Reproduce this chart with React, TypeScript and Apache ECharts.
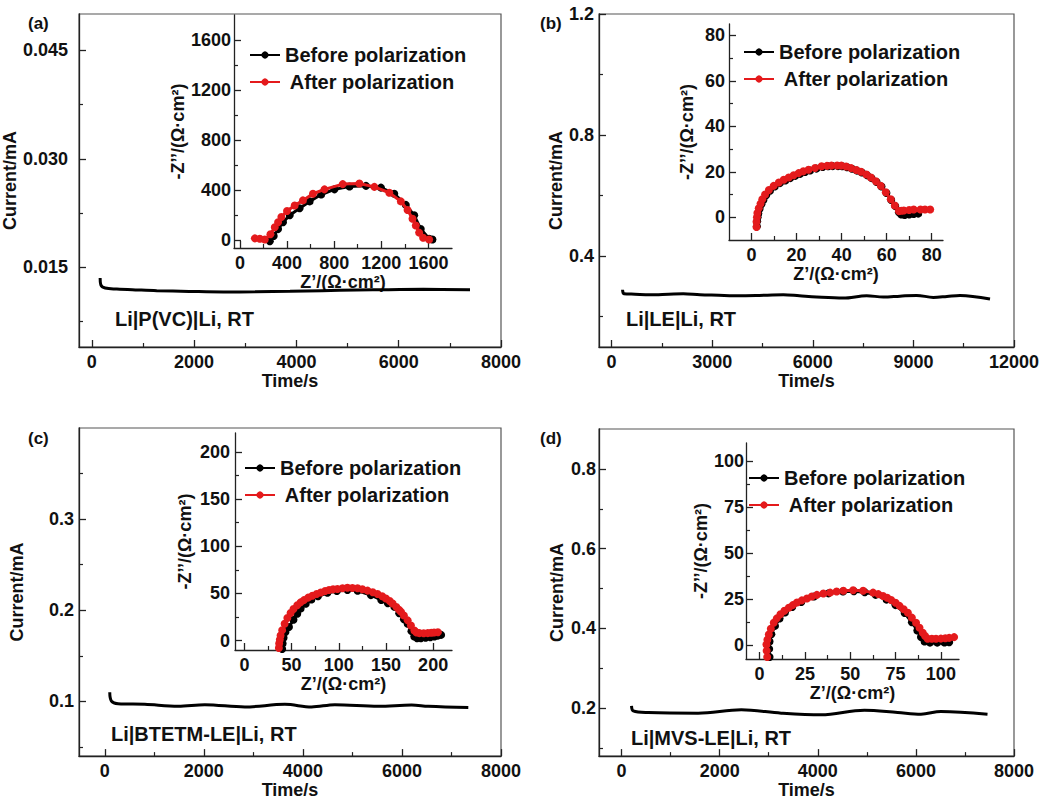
import React, { useEffect, useRef } from "react";
import * as echarts from "echarts";

// ---------- Main chronoamperometry curves (Time/s, Current/mA) ----------
const timeA = [163, 176, 261, 489, 900, 1270, 1900, 2573, 3200, 3876, 4500, 5179, 5800, 6482, 7394];
const currA = [0.01353, 0.01261, 0.01215, 0.01201, 0.01188, 0.01178, 0.01168, 0.0116, 0.01163, 0.01169, 0.01178, 0.01187, 0.01192, 0.01197, 0.01192];

const timeB = [328, 368, 700, 1143, 1700, 2138, 2635, 3200, 3629, 4300, 5121, 5600, 6114, 6910, 7606, 8103, 8600, 9097, 9594, 10000, 10390, 11285];
const currB = [0.2893, 0.2761, 0.2745, 0.2727, 0.2745, 0.276, 0.2727, 0.271, 0.2694, 0.27, 0.2727, 0.269, 0.265, 0.2616, 0.2694, 0.265, 0.268, 0.2705, 0.2639, 0.267, 0.2705, 0.2583];

const timeC = [101, 135, 269, 808, 1481, 2020, 2828, 3636, 4175, 4646, 5522, 6195, 6532, 7340];
const currC = [0.1101, 0.1004, 0.0975, 0.0968, 0.0946, 0.0964, 0.0939, 0.0968, 0.0939, 0.0964, 0.0946, 0.096, 0.0946, 0.0932];

const timeD = [203, 237, 543, 1560, 2441, 3255, 4069, 4951, 5629, 6104, 6511, 7460];
const currD = [0.2058, 0.1934, 0.1893, 0.1877, 0.1959, 0.1877, 0.1836, 0.1951, 0.1893, 0.1852, 0.1918, 0.1852];

// ---------- Inset Nyquist plots (Z' , -Z'') ----------
const aBeforeX = [254, 287, 324, 366, 423, 507, 592, 690, 803, 930, 1070, 1197, 1310, 1408, 1479, 1535, 1606, 1634];
const aBeforeY = [-6, 36, 91, 146, 201, 257, 312, 367, 408, 431, 436, 422, 373, 284, 201, 91, 14, 8];
const aAfterX = [127, 169, 211, 259, 296, 324, 352, 400, 465, 535, 620, 718, 873, 1014, 1141, 1268, 1366, 1423, 1465, 1493, 1521, 1555, 1606];
const aAfterY = [17, 14, 8, 50, 105, 146, 188, 235, 279, 320, 373, 408, 450, 455, 428, 381, 312, 243, 174, 119, 63, 22, 8];

const bBeforeX = [2.4, 2.5, 2.7, 3.0, 3.6, 4.4, 5.3, 6.5, 8.2, 10.3, 12.6, 15, 17.2, 19.4, 21.6, 23.8, 26, 28.8, 31.6, 34, 36, 38.4, 40.3, 42.4, 44.6, 46.8, 49, 51.3, 53.3, 55.5, 57.7, 59.9, 62, 63.8, 65.4, 66.5, 68, 70, 72, 74];
const bBeforeY = [-4, -1.8, 0, 1.7, 3.7, 5.7, 7.6, 9.7, 11.7, 13.5, 15, 16.2, 17.2, 18.2, 19.1, 19.9, 20.6, 21.4, 22.1, 22.4, 22.5, 22.5, 22.4, 22, 21.3, 20.5, 19.7, 18.5, 17.2, 15.5, 13.5, 10.7, 7.6, 4.9, 2.2, 1.2, 1.0, 1.2, 1.4, 1.6];
const bAfterX = [2.2, 2.2, 2.4, 2.6, 3.2, 4.0, 4.8, 6, 7.7, 9.8, 12.1, 14.3, 16.5, 18.7, 20.9, 23, 25.3, 28.2, 31.1, 33.5, 35.5, 38, 39.9, 42, 44.2, 46.5, 48.6, 51, 53, 55.2, 57.4, 59.6, 61.8, 63.6, 65.4, 66.5, 67.6, 70, 72, 75, 77, 79.3];
const bAfterY = [-4.3, -2, 0, 1.9, 4, 6, 7.9, 10, 12, 13.8, 15.3, 16.5, 17.5, 18.5, 19.4, 20.2, 20.9, 21.7, 22.4, 22.6, 22.7, 22.8, 22.7, 22.3, 21.6, 20.8, 20, 18.8, 17.5, 15.8, 13.8, 11, 7.9, 5.2, 2.7, 2.9, 3, 3.2, 3.4, 3.4, 3.4, 3.4];

const cBeforeX = [40, 40.5, 41.5, 43.5, 47.2, 52, 56, 59.6, 65, 71, 78, 88, 98, 109.2, 120, 134, 145, 152, 158.9, 164, 169, 173, 177, 180, 183, 187, 192, 197, 201.4, 205, 208.5];
const cBeforeY = [-8.9, -3, 3, 9, 14.3, 22, 28.5, 33.9, 39, 43.5, 47, 50.7, 52.5, 53.6, 52.8, 48.2, 43, 39.5, 35.7, 29, 22.5, 17.9, 10, 4.3, 2.5, 2.5, 3, 3.6, 4.3, 5.2, 6];
const cAfterX = [36.5, 36.8, 37.5, 38.3, 40, 42.6, 45.5, 48.9, 52, 56, 59.5, 63.1, 67.5, 72, 76.5, 80.9, 85.5, 89.7, 94, 98.6, 104, 109.2, 114.5, 119.9, 125, 130.5, 136, 141.1, 146, 150, 154, 157.1, 161, 164, 166, 169, 173, 176.5, 180.1, 182.5, 185.5, 190, 194.3, 198, 201, 205];
const cAfterY = [-7.9, -3, 1, 5.4, 11, 17.9, 24, 29.3, 33.5, 37.5, 40.5, 42.9, 45.5, 47.5, 49.4, 51, 52.5, 53.6, 54.3, 54.6, 55.5, 56, 55.8, 55.4, 54.3, 52.9, 51.2, 49.3, 47, 44.6, 42, 39.3, 35.5, 32.5, 30.4, 26.5, 21.4, 16, 10.7, 8.5, 7.9, 7.8, 7.9, 8.2, 8.5, 8.9];

const dBeforeX = [5.5, 5.3, 5.5, 6.5, 8.5, 11, 14, 18, 23, 30, 38, 46, 52, 58, 64, 70, 75, 80, 84, 87, 89, 91, 94, 98, 102, 104.6];
const dBeforeY = [-6.4, -2, 2, 6, 10.5, 14.5, 17.8, 20.8, 23.5, 26.5, 28.2, 29.2, 29.4, 28.8, 27.4, 24.8, 21.8, 17.5, 12.5, 8, 4.5, 2, 1.4, 1.4, 1.5, 1.6];
const dAfterX = [4.2, 3.9, 3.8, 4.3, 5.1, 6.2, 7.8, 9.5, 11.5, 13.7, 16.1, 18.3, 20.6, 23.3, 26.1, 28.8, 31.6, 35.2, 38.9, 42.5, 46.2, 51.6, 57.1, 62.6, 65.5, 68.1, 70.4, 72.6, 75, 77.2, 79.5, 81.8, 84, 86.3, 88.2, 90, 91.3, 92.7, 95, 97.3, 100, 102.5, 104.6, 107.3];
const dAfterY = [-6.4, -3, 0.4, 3, 5.8, 9, 12.2, 14.6, 16.8, 18.7, 20.4, 21.8, 23.2, 24.4, 25.4, 26.5, 27.4, 28.1, 28.6, 29.2, 29.6, 29.9, 29.6, 28.6, 27.8, 26.8, 25.8, 24.6, 23.1, 21.4, 19.6, 17.7, 15, 12.2, 9.5, 6.8, 5, 3.5, 3.5, 3.5, 3.6, 3.8, 4, 4.4];

// ---------- Tick values ----------
const mainXLabelsA = [0, 2000, 4000, 6000, 8000];
const mainXMinorA = [1000, 3000, 5000, 7000];
const mainYLabelsA = [0.015, 0.03, 0.045];
const mainYMinorA = [0.0075, 0.0225, 0.0375];

const mainXLabelsB = [0, 3000, 6000, 9000, 12000];
const mainXMinorB = [1500, 4500, 7500, 10500];
const mainYLabelsB = [0.4, 0.8, 1.2];
const mainYMinorB = [0.2, 0.6, 1.0];

const mainXLabelsC = [0, 2000, 4000, 6000, 8000];
const mainXMinorC = [1000, 3000, 5000, 7000];
const mainYLabelsC = [0.1, 0.2, 0.3];
const mainYMinorC = [0.05, 0.15, 0.25, 0.35];

const mainXLabelsD = [0, 2000, 4000, 6000, 8000];
const mainXMinorD = [1000, 3000, 5000, 7000];
const mainYLabelsD = [0.2, 0.4, 0.6, 0.8];
const mainYMinorD = [0.1, 0.3, 0.5, 0.7];

const insetLabelsA = [0, 400, 800, 1200, 1600];
const insetMinorA = [200, 600, 1000, 1400];
const insetLabelsB = [0, 20, 40, 60, 80];
const insetMinorB = [10, 30, 50, 70];
const insetLabelsC = [0, 50, 100, 150, 200];
const insetMinorC = [25, 75, 125, 175];
const insetLabelsD = [0, 25, 50, 75, 100];
const insetMinorD = [12.5, 37.5, 62.5, 87.5];

const panelTags = ["(a)", "(b)", "(c)", "(d)"];
const cellNames = ["Li|P(VC)|Li, RT", "Li|LE|Li, RT", "Li|BTETM-LE|Li, RT", "Li|MVS-LE|Li, RT"];
const seriesNames = ["Before polarization", "After polarization"];

const FONT = '"Liberation Sans", Arial, Helvetica, sans-serif';
const TXT = "#111";
const AX = "#222";
const RED = "#e41a1c";

const zip = (xs: number[], ys: number[]) => xs.map((x, i) => [x, ys[i]]);

function axisPair(
  kind: "x" | "y",
  gridIndex: number,
  min: number,
  max: number,
  labels: number[],
  minors: number[],
  fmt: (v: number) => string,
  name: string,
  nameGap: number,
  labelMargin: number
) {
  const position = kind === "x" ? "bottom" : "left";
  const major: any = {
    type: "value",
    gridIndex,
    position,
    min,
    max,
    name,
    nameLocation: "middle",
    nameGap,
    nameTextStyle: { fontFamily: FONT, fontWeight: "bold", fontSize: 18, color: TXT },
    axisLine: { show: true, onZero: false, lineStyle: { color: AX, width: 1.3 } },
    axisTick: { show: true, inside: true, length: 7, customValues: labels, lineStyle: { color: AX, width: 1.3 } },
    axisLabel: {
      show: true,
      customValues: labels,
      formatter: (v: number) => fmt(v),
      margin: labelMargin,
      fontFamily: FONT,
      fontWeight: "bold",
      fontSize: 18,
      color: TXT,
      showMinLabel: true,
      showMaxLabel: true,
    },
    splitLine: { show: false },
  };
  const minor: any = {
    type: "value",
    gridIndex,
    position,
    min,
    max,
    axisLine: { show: false, onZero: false },
    axisTick: { show: true, inside: true, length: 4, customValues: minors, lineStyle: { color: AX, width: 1.2 } },
    axisLabel: { show: false },
    splitLine: { show: false },
  };
  return [major, minor];
}

const panels = [
  {
    grid: { left: 79, top: 14, width: 422, height: 333 },
    x: [-250, 8000, mainXLabelsA, mainXMinorA],
    y: [0.004, 0.05, mainYLabelsA, mainYMinorA],
    yFmt: (v: number) => v.toFixed(3),
    yNameGap: 53, xNameGap: 24, yMargin: 11,
    t: timeA, c: currA,
  },
  {
    grid: { left: 599, top: 14, width: 415, height: 333 },
    x: [-375, 12000, mainXLabelsB, mainXMinorB],
    y: [0.1, 1.2, mainYLabelsB, mainYMinorB],
    yFmt: (v: number) => v.toFixed(1),
    yNameGap: 33, xNameGap: 24, yMargin: 5,
    t: timeB, c: currB,
  },
  {
    grid: { left: 79, top: 428, width: 422, height: 333 },
    x: [-520, 8000, mainXLabelsC, mainXMinorC],
    y: [0.04, 0.4, mainYLabelsC, mainYMinorC],
    yFmt: (v: number) => v.toFixed(1),
    yNameGap: 53, xNameGap: 22, yMargin: 5,
    t: timeC, c: currC,
  },
  {
    grid: { left: 599, top: 429, width: 415, height: 333 },
    x: [-460, 8000, mainXLabelsD, mainXMinorD],
    y: [0.08, 0.9, mainYLabelsD, mainYMinorD],
    yFmt: (v: number) => v.toFixed(1),
    yNameGap: 33, xNameGap: 22, yMargin: 3,
    t: timeD, c: currD,
  },
];

const insets = [
  {
    grid: { left: 234, top: 15, width: 218, height: 233 },
    x: [-50, 1800], y: [-60, 1800], labels: insetLabelsA, minors: insetMinorA,
    yGap: 43, xGap: 22, yMargin: 3,
    before: zip(aBeforeX, aBeforeY), after: zip(aAfterX, aAfterY), sym: 8,
    legend: { left: 249, top: 44 },
  },
  {
    grid: { left: 729, top: 24, width: 214, height: 216 },
    x: [-10, 85], y: [-10, 85], labels: insetLabelsB, minors: insetMinorB,
    yGap: 33, xGap: 24, yMargin: 4,
    before: zip(bBeforeX, bBeforeY), after: zip(bAfterX, bAfterY), sym: 8,
    legend: { left: 743, top: 41 },
  },
  {
    grid: { left: 235, top: 433, width: 217, height: 217 },
    x: [-10, 220], y: [-10, 220], labels: insetLabelsC, minors: insetMinorC,
    yGap: 41, xGap: 25, yMargin: 5,
    before: zip(cBeforeX, cBeforeY), after: zip(cAfterX, cAfterY), sym: 8,
    legend: { left: 244, top: 457 },
  },
  {
    grid: { left: 746, top: 443, width: 213, height: 216 },
    x: [-7.5, 110], y: [-7.5, 110], labels: insetLabelsD, minors: insetMinorD,
    yGap: 30, xGap: 21, yMargin: 2,
    before: zip(dBeforeX, dBeforeY), after: zip(dAfterX, dAfterY), sym: 8,
    legend: { left: 748, top: 467 },
  },
];

const tagPos = [
  [28, 15],
  [540, 15],
  [28, 430],
  [540, 430],
];
const cellPos = [
  [115, 309],
  [626, 309],
  [111, 724],
  [631, 728],
];

function buildOption() {
  const grids: any[] = [];
  const xAxes: any[] = [];
  const yAxes: any[] = [];
  const series: any[] = [];
  const legends: any[] = [];

  panels.forEach((p, i) => {
    grids.push({ ...p.grid, show: true, borderColor: "#555", borderWidth: 1.2, backgroundColor: "transparent" });
    const [xmin, xmax, xl, xm] = p.x as any;
    const [ymin, ymax, yl, ym] = p.y as any;
    xAxes.push(...axisPair("x", i, xmin, xmax, xl, xm, (v) => String(v), "Time/s", p.xNameGap, 6));
    yAxes.push(...axisPair("y", i, ymin, ymax, yl, ym, p.yFmt, "Current/mA", p.yNameGap, p.yMargin));
    series.push({
      type: "line",
      name: "current-" + i,
      xAxisIndex: 2 * i,
      yAxisIndex: 2 * i,
      data: zip(p.t, p.c),
      showSymbol: false,
      smooth: 0.35,
      lineStyle: { color: "#000", width: 3 },
      silent: true,
      z: 3,
    });
  });

  insets.forEach((ins, k) => {
    const gi = 4 + k;
    grids.push({ ...ins.grid, show: false });
    xAxes.push(...axisPair("x", gi, ins.x[0], ins.x[1], ins.labels, ins.minors, (v) => String(v), "Z’/(Ω·cm²)", ins.xGap, 6));
    yAxes.push(...axisPair("y", gi, ins.y[0], ins.y[1], ins.labels, ins.minors, (v) => String(v), "-Z’’/(Ω·cm²)", ins.yGap, ins.yMargin));
    series.push({
      type: "line",
      name: seriesNames[0],
      xAxisIndex: 2 * gi,
      yAxisIndex: 2 * gi,
      data: ins.before,
      symbol: "circle",
      symbolSize: ins.sym,
      showSymbol: true,
      lineStyle: { color: "#000", width: 3 },
      itemStyle: { color: "#000" },
      z: 4,
    });
    series.push({
      type: "line",
      name: seriesNames[1],
      xAxisIndex: 2 * gi,
      yAxisIndex: 2 * gi,
      data: ins.after,
      symbol: "circle",
      symbolSize: ins.sym,
      showSymbol: true,
      lineStyle: { color: RED, width: 3 },
      itemStyle: { color: RED },
      z: 5,
    });
    legends.push({
      data: seriesNames,
      orient: "vertical",
      left: ins.legend.left,
      top: ins.legend.top,
      itemWidth: 30,
      itemHeight: 9,
      itemGap: 5,
      padding: 0,
      selectedMode: false,
      formatter: (name: string) => (name === seriesNames[1] ? " " + name : name),
      textStyle: { fontFamily: FONT, fontWeight: "bold", fontSize: 20, color: TXT, lineHeight: 22 },
    });
  });

  const graphic: any[] = [];
  panelTags.forEach((t, i) => {
    graphic.push({
      type: "text",
      x: tagPos[i][0],
      y: tagPos[i][1],
      style: { text: t, fontFamily: FONT, fontWeight: "bold", fontSize: 17, fill: TXT },
    });
  });
  cellNames.forEach((t, i) => {
    graphic.push({
      type: "text",
      x: cellPos[i][0],
      y: cellPos[i][1],
      style: { text: t, fontFamily: FONT, fontWeight: "bold", fontSize: 20, fill: TXT },
    });
  });

  return {
    animation: false,
    backgroundColor: "#fff",
    grid: grids,
    xAxis: xAxes,
    yAxis: yAxes,
    legend: legends,
    series,
    graphic,
  };
}

export default function App() {
  const ref = useRef<HTMLDivElement>(null);
  useEffect(() => {
    if (!ref.current) return;
    const chart = echarts.init(ref.current, undefined, { renderer: "svg" });
    chart.setOption(buildOption() as any);
    return () => chart.dispose();
  }, []);
  return (
    <div
      ref={ref}
      style={{ position: "fixed", left: 0, top: 0, width: 1051, height: 800, background: "#fff" }}
    />
  );
}
